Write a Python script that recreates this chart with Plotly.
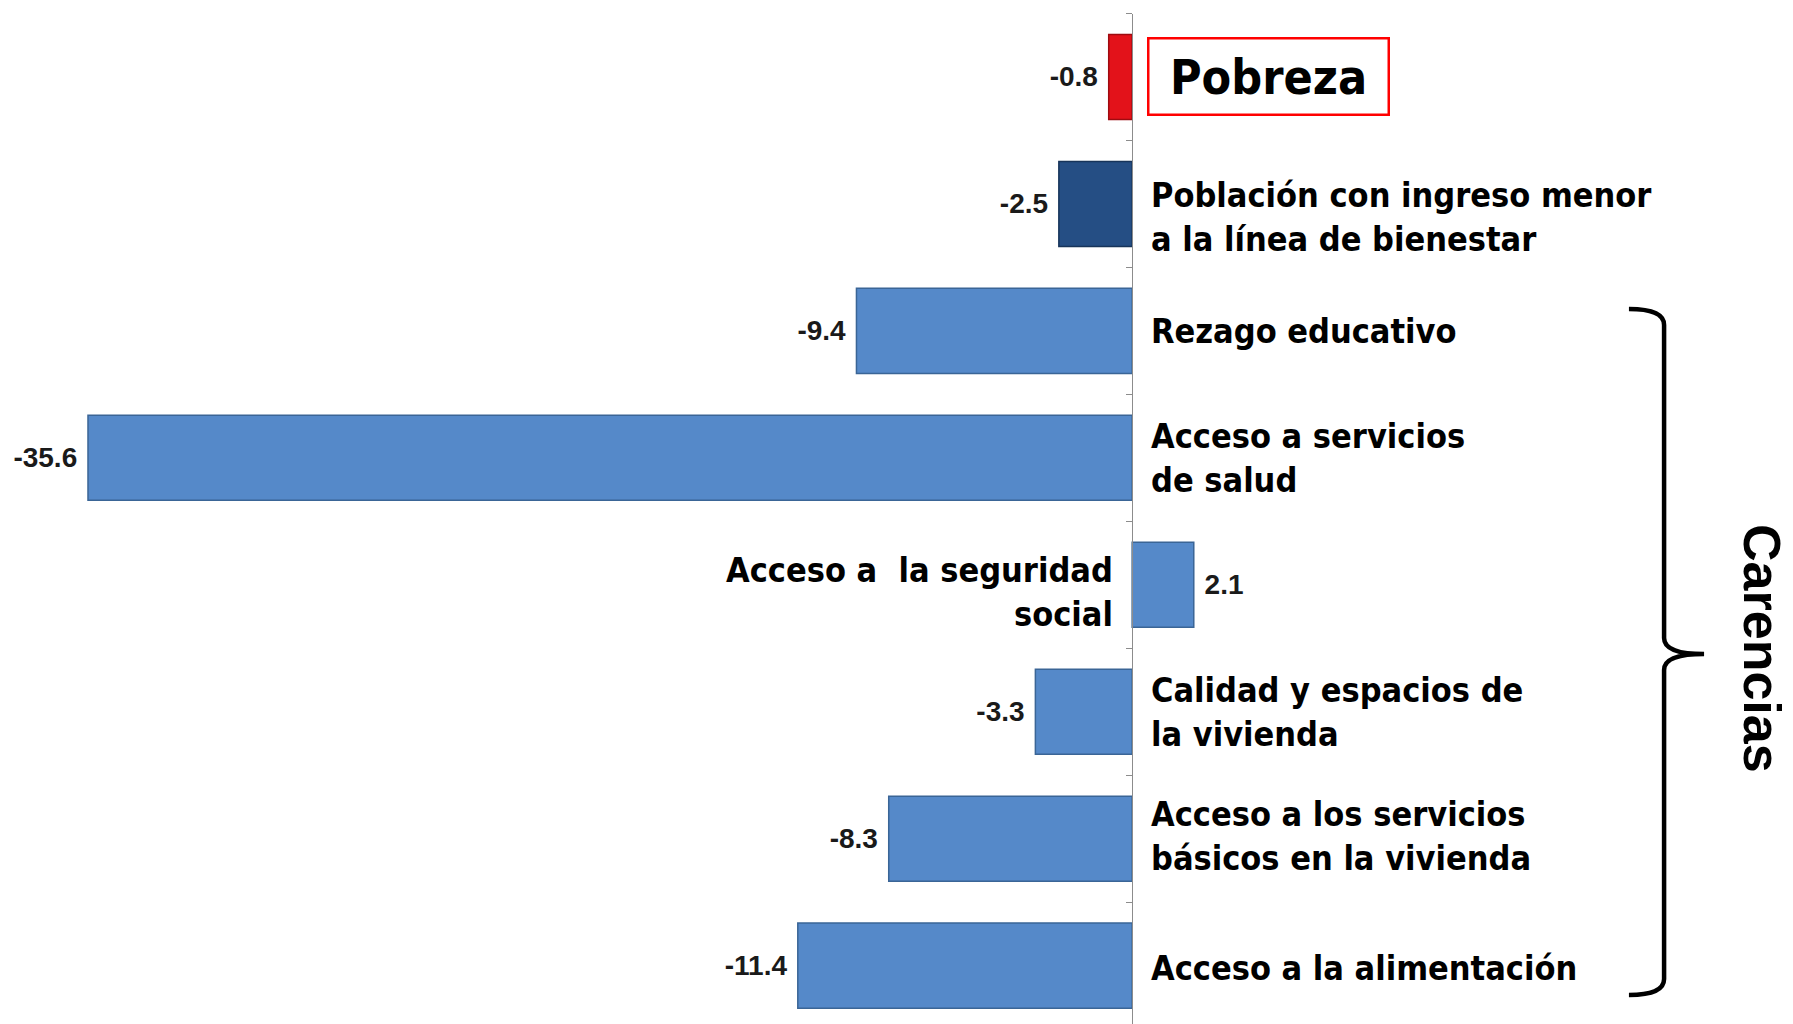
"""Variación de la pobreza y carencias sociales."""
import plotly.graph_objects as go

W, H = 1793, 1024

claves = ["pobreza", "ingreso", "rezago", "salud", "seguridad", "vivienda", "servicios", "alimentacion"]
etiquetas = [
    "Pobreza",
    "Población con ingreso menor<br>a la línea de bienestar",
    "Rezago educativo",
    "Acceso a servicios<br>de salud",
    "Acceso a&nbsp; la seguridad<br>social",
    "Calidad y espacios de<br>la vivienda",
    "Acceso a los servicios<br>básicos en la vivienda",
    "Acceso a la alimentación",
]
valores = [-0.8, -2.5, -9.4, -35.6, 2.1, -3.3, -8.3, -11.4]
colores = ["#e3121a", "#254e84"] + ["#5589c9"] * 6
bordes = ["#9e0b10", "#17345a"] + ["#3a6596"] * 6

X_RANGE = [-38.6, 22.53]
LABEL_FONT = "DejaVu Sans Condensed, Tahoma, DejaVu Sans, sans-serif"
NUM_FONT = "Liberation Sans, Arial, sans-serif"
# pequeños ajustes verticales de algunas etiquetas (px)
AJUSTE_Y = {"ingreso": -13, "seguridad": -7, "servicios": 3, "alimentacion": -2}

plantillas = ["%{x:.1f}&nbsp;" if v < 0 else "&nbsp;%{x:.1f}" for v in valores]

fig = go.Figure(
    go.Bar(
        x=valores, y=claves, orientation="h",
        marker=dict(color=colores, line=dict(color=bordes, width=1.5)),
        text=valores, texttemplate=plantillas, textposition="outside",
        textfont=dict(family=NUM_FONT, size=28, color="#1a1a1a", weight="bold"),
        constraintext="none", cliponaxis=False, hoverinfo="skip",
    )
)

# etiquetas de categoría junto al eje
for clave, texto, valor in zip(claves, etiquetas, valores):
    if clave == "pobreza":
        fig.add_annotation(
            x=0, y=clave, text=texto, showarrow=False, xanchor="left", xshift=15,
            font=dict(family=LABEL_FONT, size=48, color="black", weight="bold"),
            bordercolor="#ff0000", borderwidth=2.5, borderpad=0, width=238, height=74,
        )
        continue
    derecha = valor < 0
    fig.add_annotation(
        x=0, y=clave, text=texto, showarrow=False,
        xanchor="left" if derecha else "right", align="left" if derecha else "right",
        xshift=17 if derecha else -17, yshift=AJUSTE_Y.get(clave, 0),
        font=dict(family=LABEL_FONT, size=34, color="black", weight="bold"),
    )


def px(x, y):
    return f"{x / W:.4f},{1 - y / H:.4f}"


llave = (
    f"M {px(1629, 309)} Q {px(1664, 309)} {px(1664, 325)} L {px(1664, 638)} "
    f"Q {px(1664, 654)} {px(1704, 654)} Q {px(1664, 654)} {px(1664, 670)} "
    f"L {px(1664, 979)} Q {px(1664, 995)} {px(1629, 995)}"
)
fig.add_shape(type="path", path=llave, xref="paper", yref="paper",
              line=dict(color="black", width=4.5))
fig.add_annotation(
    x=1762 / W, y=1 - 648 / H, xref="paper", yref="paper", text="Carencias",
    showarrow=False, textangle=90, xanchor="center", yanchor="middle",
    font=dict(family="Liberation Sans, Arial, sans-serif", size=52, color="black", weight="bold"),
)

pos_eje = (0 - X_RANGE[0]) / (X_RANGE[1] - X_RANGE[0])
fig.update_layout(
    width=W, height=H, margin=dict(l=0, r=0, t=0, b=0, pad=0),
    plot_bgcolor="white", paper_bgcolor="white", showlegend=False,
    bargap=0.33,
    xaxis=dict(range=X_RANGE, visible=False, automargin=False),
    yaxis=dict(
        categoryorder="array", categoryarray=claves, range=[7.46, -0.5],
        domain=[0, 1 - 13.5 / H], anchor="free", position=pos_eje,
        showline=True, linecolor="#8c8c8c", linewidth=1,
        ticks="outside", tickson="boundaries", ticklen=6, tickcolor="#8c8c8c",
        showticklabels=False, showgrid=False, zeroline=False, automargin=False,
    ),
)

fig.write_html(
    "out.html",
    config={"displayModeBar": False},
    post_script="document.body.style.margin = '0';",
)
